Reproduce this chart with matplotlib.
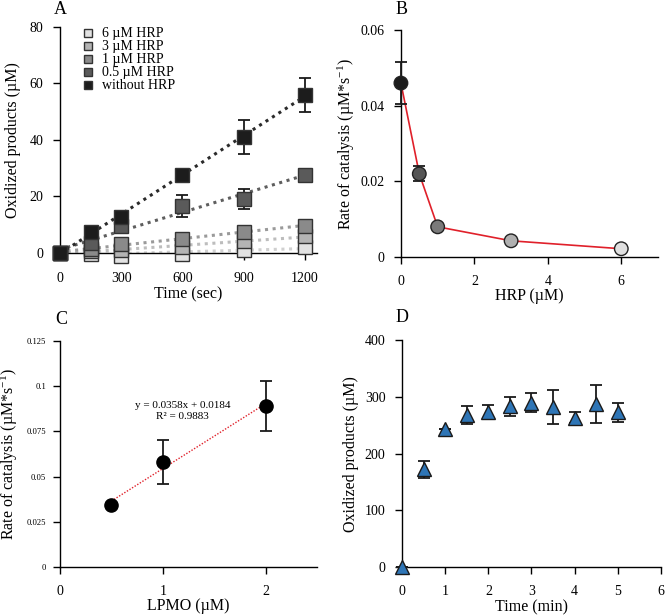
import numpy as np
import matplotlib
matplotlib.use("Agg")
import matplotlib.pyplot as plt

plt.rcParams['font.family'] = ['Liberation Serif', 'DejaVu Serif']
plt.rcParams['mathtext.fontset'] = 'custom'
plt.rcParams['mathtext.rm'] = 'Liberation Serif'
plt.rcParams['mathtext.it'] = 'Liberation Serif:italic'
plt.rcParams['axes.linewidth'] = 1.0

# ---------- Panel A data ----------
time_a = [0, 150, 300, 600, 900, 1200]
series_labels = ["6 µM HRP", "3 µM HRP", "1 µM HRP", "0.5 µM HRP", "without HRP"]
series_colors = ["#e2e2e2", "#b4b4b4", "#8a8a8a", "#5a5a5a", "#1c1c1c"]
line_colors = ["#d0d0d0", "#bdbdbd", "#9a9a9a", "#5e5e5e", "#2a2a2a"]
hrp6 = [0, -0.5, -1.0, -0.5, 1.0, 2.0]
hrp3 = [0, 0.5, 1.0, 2.0, 4.0, 6.0]
hrp1 = [0, 1.5, 3.0, 5.0, 7.5, 9.5]
hrp05 = [0, 3.5, 9.5, 16.5, 19.0, 27.5]
nohrp = [0, 7.5, 12.5, 27.5, 41.0, 56.0]
err05 = [0, 0, 1.5, 4.0, 3.5, 0]
errno = [0, 1.0, 1.0, 1.0, 6.0, 6.0]
series_vals = [hrp6, hrp3, hrp1, hrp05, nohrp]
series_errs = [None, None, None, err05, errno]

# ---------- Panel B data ----------
hrp_conc = [0, 0.5, 1, 3, 6]
rate_b = [0.046, 0.022, 0.008, 0.0043, 0.0022]
rate_b_err = [0.0055, 0.002, 0, 0, 0]
colors_b = ["#1c1c1c", "#555555", "#7a7a7a", "#b0b0b0", "#e0e0e0"]

# ---------- Panel C data ----------
lpmo = [0.5, 1, 2]
rate_c = [0.034, 0.058, 0.089]
rate_c_err = [0, 0.012, 0.014]

# ---------- Panel D data ----------
time_d = [0, 0.5, 1, 1.5, 2, 2.5, 3, 3.5, 4, 4.5, 5]
prod_d = [0, 172, 243, 268, 273, 283, 290, 282, 263, 287, 273]
prod_d_err = [0, 15, 0, 16, 12, 17, 17, 30, 10, 33, 17]

W, H = 666, 615
fig = plt.figure(figsize=(W / 100, H / 100), dpi=100)

def style(ax, xpad=7, ypad=6, ylab=10):
    ax.spines['top'].set_visible(False)
    ax.spines['right'].set_visible(False)
    ax.tick_params(direction='out', length=5, width=1, labelsize=10)
    ax.tick_params(axis='x', pad=xpad)
    ax.tick_params(axis='y', pad=ypad, labelsize=ylab)

def letter(px, py, s):
    fig.text(px / W, 1 - py / H, s, fontsize=13, ha='center', va='center')

# ---- A ----
axA = fig.add_axes([0.090, 0.589, 0.386, 0.367])
style(axA, xpad=9, ypad=7)
for vals, c, lc in zip(series_vals, series_colors, line_colors):
    p = np.polyfit(time_a, vals, 1)
    xx = np.array([0, 1200])
    axA.plot(xx, np.polyval(p, xx), ls=(0, (1.0, 1.5)), lw=2.2, color=lc, zorder=2)
for vals, errs, c, lbl in zip(series_vals, series_errs, series_colors, series_labels):
    if errs is not None:
        axA.errorbar(time_a, vals, yerr=errs, fmt='none', ecolor='#1a1a1a', elinewidth=1.3,
                     capsize=4, capthick=1.3, zorder=3, clip_on=False)
    axA.plot(time_a, vals, 's', ms=9.5, mfc=c, mec='#333333', mew=1.0, label=lbl,
             zorder=4, clip_on=False, ls='none')
axA.set_xlim(0, 1260)
axA.set_ylim(0, 80)
axA.set_xticks([0, 300, 600, 900, 1200])
axA.set_yticks([0, 20, 40, 60, 80])
axA.set_xlabel("Time (sec)", fontsize=11.5, labelpad=1)
axA.set_ylabel("Oxidized products (µM)", fontsize=11.5, labelpad=6)
axA.legend(loc='upper left', bbox_to_anchor=(0.06, 1.035), frameon=False, fontsize=10,
           handlelength=0.6, handletextpad=0.7, labelspacing=0.0, markerscale=0.65,
           borderaxespad=0.2)
letter(60, 9, "A")

# ---- B ----
axB = fig.add_axes([0.602, 0.582, 0.386, 0.369])
style(axB, xpad=8, ypad=7)
axB.plot(hrp_conc, rate_b, '-', color='#e0202a', lw=1.2, zorder=2)
axB.errorbar(hrp_conc, rate_b, yerr=rate_b_err, fmt='none', ecolor='#1a1a1a', elinewidth=1.3,
             capsize=4, capthick=1.3, zorder=3, clip_on=False)
axB.scatter(hrp_conc, rate_b, s=95, c=colors_b, edgecolors='#222222', linewidths=1.0,
            zorder=4, clip_on=False)
axB.set_xlim(0, 7)
axB.set_ylim(0, 0.06)
axB.set_xticks([0, 2, 4, 6])
axB.set_yticks([0, 0.02, 0.04, 0.06])
axB.set_yticklabels(["0", "0.02", "0.04", "0.06"])
axB.set_xlabel("HRP (µM)", fontsize=11.5, labelpad=0)
axB.set_ylabel("Rate of catalysis (µM*s$^{-1}$)", fontsize=11.5, labelpad=2)
letter(402, 10, "B")

# ---- C ----
axC = fig.add_axes([0.090, 0.078, 0.386, 0.368])
style(axC, xpad=8, ypad=5, ylab=6.2)
pc = np.polyfit(lpmo, rate_c, 1)
xc = np.array([lpmo[0], lpmo[-1]])
axC.plot(xc, np.polyval(pc, xc), ls=(0, (1, 1.2)), color='#e0202a', lw=1.0, zorder=2)
axC.errorbar(lpmo, rate_c, yerr=rate_c_err, fmt='none', ecolor='#1a1a1a', elinewidth=1.3,
             capsize=4, capthick=1.3, zorder=3)
axC.plot(lpmo, rate_c, 'o', ms=9.5, mfc='black', mec='black', zorder=4, ls='none')
axC.set_xlim(0, 2.5)
axC.set_ylim(0, 0.125)
axC.set_xticks([0, 1, 2])
axC.set_yticks([0, 0.025, 0.05, 0.075, 0.1, 0.125])
axC.set_yticklabels(["0", "0.025", "0.05", "0.075", "0.1", "0.125"])
axC.set_xlabel("LPMO (µM)", fontsize=11.5, labelpad=0)
axC.set_ylabel("Rate of catalysis (µM*s$^{-1}$)", fontsize=11.5, labelpad=4.5)
axC.text(1.19, 0.086, "y = 0.0358x + 0.0184\nR² = 0.9883", fontsize=8, ha='center',
         va='center', linespacing=1.3)
letter(61, 319, "C")

# ---- D ----
axD = fig.add_axes([0.604, 0.078, 0.388, 0.369])
style(axD, xpad=8, ypad=7)
axD.errorbar(time_d, prod_d, yerr=prod_d_err, fmt='none', ecolor='#1a1a1a', elinewidth=1.3,
             capsize=4, capthick=1.3, zorder=3, clip_on=False)
axD.plot(time_d, prod_d, '^', ms=10, mfc='#2e75b6', mec='#1a1a1a', mew=1.0, zorder=4,
         ls='none', clip_on=False)
axD.set_xlim(0, 6)
axD.set_ylim(0, 400)
axD.set_xticks([0, 1, 2, 3, 4, 5, 6])
axD.set_yticks([0, 100, 200, 300, 400])
axD.set_xlabel("Time (min)", fontsize=11.5, labelpad=1)
axD.set_ylabel("Oxidized products (µM)", fontsize=11.5, labelpad=4)
letter(402, 318, "D")

fig.savefig("out.png", dpi=100)
